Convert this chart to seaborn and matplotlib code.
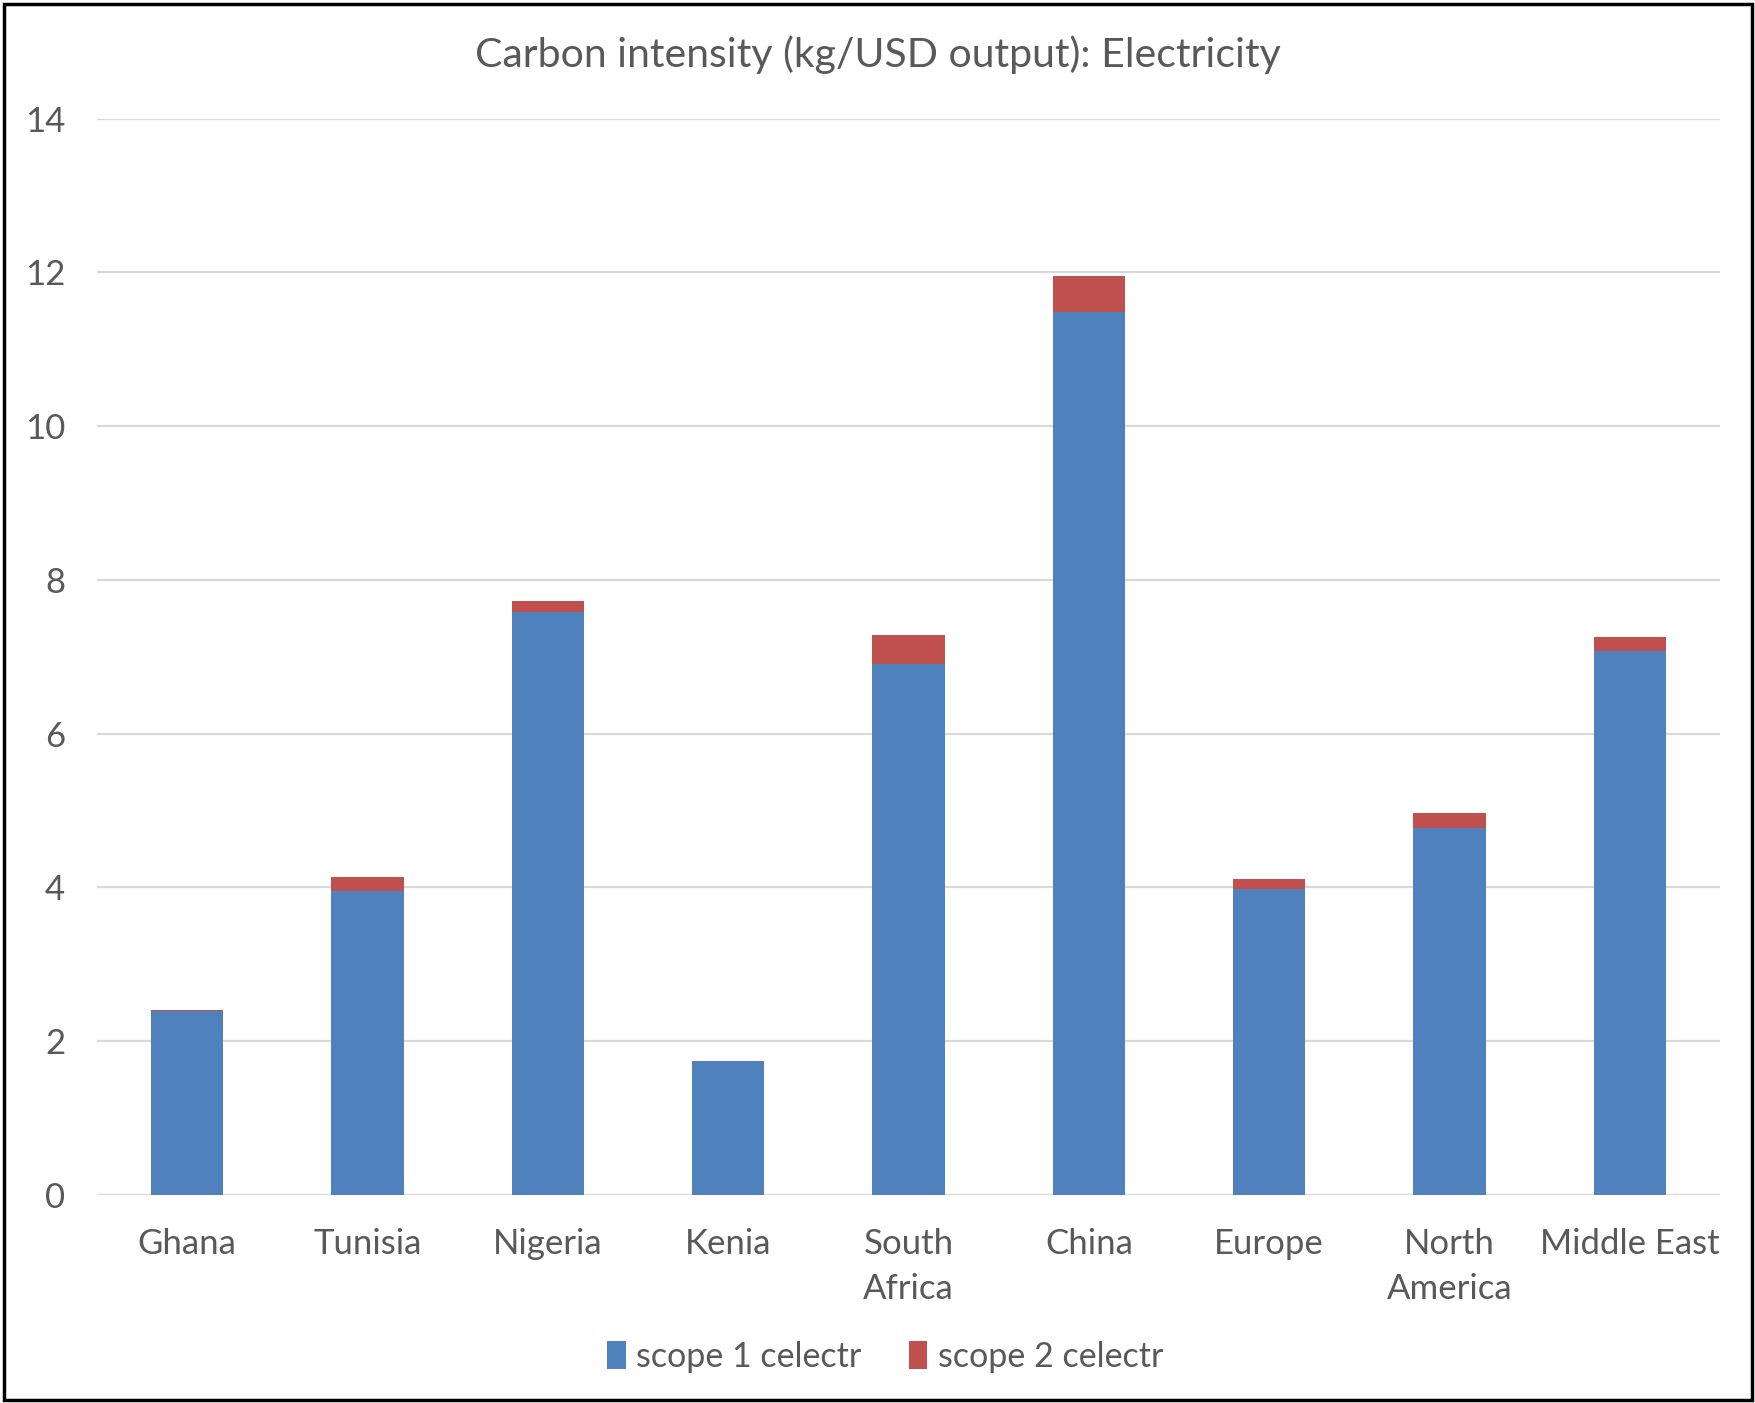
import matplotlib
matplotlib.use("Agg")
import matplotlib.pyplot as plt
import seaborn as sns
import pandas as pd
import numpy as np
from matplotlib.patches import Rectangle, Patch

# Electricity-sector carbon intensity, kg CO2 per USD of output
regions = ["Ghana", "Tunisia", "Nigeria", "Kenia", "South\nAfrica", "China",
           "Europe", "North\nAmerica", "Middle East"]
scope1 = [2.39, 3.96, 7.58, 1.74, 6.91, 11.48, 3.98, 4.77, 7.07]
scope2 = [0.015, 0.18, 0.15, 0.008, 0.38, 0.48, 0.13, 0.20, 0.19]
series_names = ["scope 1 celectr", "scope 2 celectr"]
y_ticks = [0, 2, 4, 6, 8, 10, 12, 14]

BLUE = "#4F81BD"
RED = "#C0504D"
TEXT = "#595959"
GRID = "#D9D9D9"

df = pd.DataFrame({"region": regions, "scope1": scope1, "scope2": scope2})
df["total"] = df["scope1"] + df["scope2"]

sns.set_theme(style="white")
plt.rcParams["font.family"] = ["Lato", "DejaVu Sans"]

fig = plt.figure(figsize=(17.56, 14.03), dpi=100)
ax = fig.add_axes([97 / 1756, 1 - 1195 / 1403, (1720 - 97) / 1756, (1195 - 118.7) / 1403])

# stacked bars: full height in red, scope 1 drawn over it in blue
sns.barplot(data=df, x="region", y="total", color=RED, width=0.4,
            saturation=1, ax=ax, linewidth=0, zorder=2)
sns.barplot(data=df, x="region", y="scope1", color=BLUE, width=0.4,
            saturation=1, ax=ax, linewidth=0, zorder=3)

ax.set_ylim(0, 14)
ax.set_xlim(-0.5, len(regions) - 0.5)
ax.set_yticks(y_ticks)
ax.set_yticklabels([str(t) for t in y_ticks])
ax.yaxis.grid(True, color=GRID, linewidth=1.6, zorder=0)
ax.set_axisbelow(True)
for s in ax.spines.values():
    s.set_visible(False)
ax.tick_params(axis="both", length=0, labelsize=25, labelcolor=TEXT)
ax.tick_params(axis="y", pad=23)
ax.tick_params(axis="x", pad=24)
for lbl in ax.get_xticklabels():
    lbl.set_linespacing(1.48)
    lbl.set_verticalalignment("top")
ax.set_xlabel("")
ax.set_ylabel("")

fig.text(878 / 1756, 1 - 55 / 1403, "Carbon intensity (kg/USD output): Electricity",
         ha="center", va="center", fontsize=29.5, color=TEXT)

handles = [Patch(facecolor=BLUE, edgecolor="none"), Patch(facecolor=RED, edgecolor="none")]
fig.legend(handles, series_names, loc="center", bbox_to_anchor=(885 / 1756, 1 - 1357 / 1403),
           ncol=2, frameon=False, fontsize=24.5, labelcolor=TEXT, handlelength=0.55,
           handleheight=0.9, handletextpad=0.3, columnspacing=1.4)

# outer frame around the chart
fig.patches.append(Rectangle((0.002, 0.002), 0.996, 0.995, transform=fig.transFigure,
                             fill=False, edgecolor="black", linewidth=2.5))

fig.savefig("out.png", dpi=100)
